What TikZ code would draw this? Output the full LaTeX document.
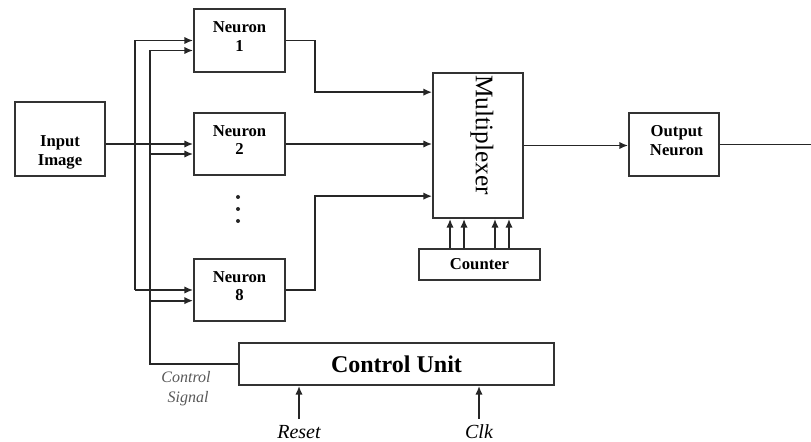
\documentclass[tikz,border=0pt]{standalone}
\usepackage{fontspec}
\setmainfont{Liberation Serif}
\usetikzlibrary{arrows.meta,calc}
\begin{document}
\begin{tikzpicture}[x=0.75pt,y=-0.75pt,
  line width=1.3pt,
  color=black!85,
  box/.style={draw=black!80,line width=1.3pt,fill=white,inner sep=0pt,align=center},
  lbl/.style={font=\fontsize{12.5}{14}\selectfont\bfseries,align=center,text=black},
  arr/.style={-{Latex[length=6.5pt,width=5.5pt]}},
  sig/.style={font=\fontsize{15}{16}\selectfont\itshape,inner sep=1pt,text=black}
]
\fill[white] (0,0) rectangle (811,442);
\useasboundingbox (0,0) rectangle (811,442);

% boxes
\node[box,minimum width=67.5pt,minimum height=55.5pt,
  label={[lbl,yshift=-10pt]center:Input\\Image}] (inp) at (60,139) {};
\node[box,minimum width=68.25pt,minimum height=47.25pt,
  label={[lbl,yshift=3pt]center:Neuron\\1}] (n1) at (239.5,40.5) {};
\node[box,minimum width=68.25pt,minimum height=46.5pt,
  label={[lbl,yshift=3pt]center:Neuron\\2}] (n2) at (239.5,144) {};
\node[box,minimum width=68.25pt,minimum height=46.5pt,
  label={[lbl,yshift=3pt]center:Neuron\\8}] (n8) at (239.5,290) {};
\node[box,minimum width=67.5pt,minimum height=108.75pt] (mux) at (478,145.5) {};
\node[rotate=-90,font=\fontsize{19}{20}\selectfont,inner sep=0pt,text=black] (muxt) at (482,135) {Multiplexer};
\node[box,minimum width=67.5pt,minimum height=47.25pt,
  label={[lbl,xshift=2pt,yshift=3pt]center:Output\\Neuron}] (out) at (674,144.5) {};
\node[box,minimum width=90.75pt,minimum height=23.25pt,lbl] (cnt) at (479.5,264.5) {Counter};
\node[box,minimum width=236.25pt,minimum height=31.5pt,text=black,
  font=\fontsize{18}{19}\selectfont\bfseries] (cu) at (396.5,364) {Control Unit};

% dots
\foreach \yy in {197,209,221} \fill (238,\yy) circle (1.5pt);

% buses
\coordinate (busA) at (135,0);
\coordinate (busB) at (150,0);
\coordinate (elb) at (315,0);
\coordinate (endR) at (811,145);
\coordinate (c1) at ([yshift=-7.5pt]n1.west);
\coordinate (c2) at ([yshift=-7.5pt]n2.west);
\coordinate (c8) at ([yshift=-8pt]n8.west);

% input image to neurons
\draw[arr] (inp.east |- n2.west) -- (n2.west);
\draw (busA |- n1.west) -- (busA |- n8.west);
\draw[arr] (busA |- n1.west) -- (n1.west);
\draw[arr] (busA |- n8.west) -- (n8.west);

% control signal to neurons
\draw (cu.west) -- (busB |- cu.west) -- (busB |- c1);
\draw[arr] (busB |- c1) -- (c1);
\draw[arr] (busB |- c2) -- (c2);
\draw[arr] (busB |- c8) -- (c8);

% neurons to multiplexer
\coordinate (m1) at ([yshift=40pt]mux.west);
\coordinate (m3) at ([yshift=-38pt]mux.west);
\draw[arr] (n1.east) -- (elb |- n1.east) -- (elb |- m1) -- (m1);
\draw[arr] (n2.east) -- (n2.east -| mux.west);
\draw[arr] (n8.east) -- (elb |- n8.east) -- (elb |- m3) -- (m3);

% multiplexer to output
\draw[arr] (mux.east) -- (mux.east -| out.west);
\draw (out.east) -- (out.east -| endR);

% counter to multiplexer
\foreach \dx in {-22.1,-11.6,11.6,22.1}
  \draw[arr] ([xshift=\dx pt]cnt.north) -- ([xshift=\dx pt]cnt.north |- mux.south);

% control signal label
\node[font=\fontsize{12}{15}\selectfont\itshape,text=black!65,align=center,inner sep=0pt] (cs) at (186,389) {Control\\\ Signal};

% reset and clk
\node[sig] (rst) at (299,432) {Reset};
\node[sig] (clk) at (479,432) {Clk};
\draw[arr] ([yshift=3pt]rst.north) -- (rst.north |- cu.south);
\draw[arr] ([yshift=3pt]clk.north) -- (clk.north |- cu.south);
\end{tikzpicture}
\end{document}
